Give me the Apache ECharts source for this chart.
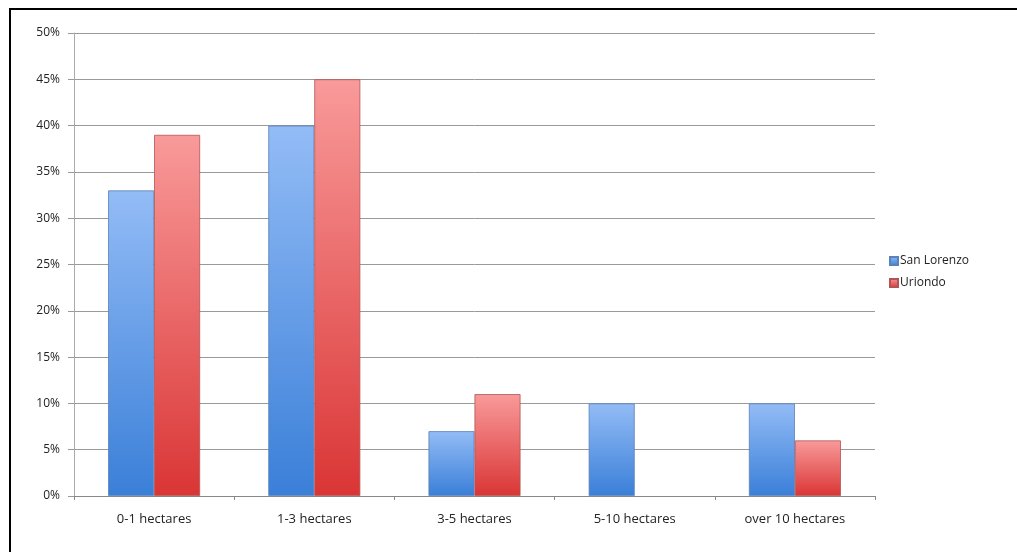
<!DOCTYPE html>
<html>
<head>
<meta charset="utf-8">
<script src="https://cdn.jsdelivr.net/npm/echarts@6/dist/echarts.min.js"></script>
<style>
  html, body { margin: 0; padding: 0; background: #fff; }
  #frame { position: absolute; left: 9px; top: 8px; width: 1008px; height: 544px;
           border-top: 2px solid #000; border-left: 2px solid #000; box-sizing: border-box; }
  #chart { position: absolute; left: 0; top: 0; width: 1017px; height: 552px; }
</style>
</head>
<body>
<div id="frame"></div>
<div id="chart"></div>
<script>
const categories = ['0-1 hectares', '1-3 hectares', '3-5 hectares', '5-10 hectares', 'over 10 hectares'];
const sanLorenzo = [33, 40, 7, 10, 10];
const uriondo = [39, 45, 11, 0, 6];
const seriesNames = ['San Lorenzo', 'Uriondo'];

const chart = echarts.init(document.getElementById('chart'), null, { renderer: 'canvas' });

function grad(top, bottom) {
  return new echarts.graphic.LinearGradient(0, 0, 0, 1, [
    { offset: 0, color: top },
    { offset: 1, color: bottom }
  ]);
}

// zero-height bars get no outline so nothing is drawn for them
function barData(values) {
  return values.map(v => v === 0 ? { value: v, itemStyle: { borderWidth: 0, opacity: 0 } } : v);
}

const font = '"Open Sans", "DejaVu Sans", sans-serif';

chart.setOption({
  backgroundColor: 'transparent',
  animation: false,
  grid: { left: 74, right: 142, top: 33, bottom: 56 },
  legend: {
    orient: 'vertical',
    left: 884,
    top: 250,
    itemWidth: 8,
    itemHeight: 8,
    itemGap: 10,
    icon: 'rect',
    textStyle: { fontFamily: font, fontSize: 12, color: '#222', padding: [0, 0, 0, -3] },
    data: seriesNames
  },
  xAxis: {
    type: 'category',
    data: categories,
    axisLine: { lineStyle: { color: '#888', width: 1 } },
    axisTick: { show: true, length: 4, alignWithLabel: false, lineStyle: { color: '#888' } },
    axisLabel: { fontFamily: font, fontSize: 13, color: '#222', margin: 17 }
  },
  yAxis: {
    type: 'value',
    min: 0,
    max: 50,
    interval: 5,
    axisLine: { show: true, lineStyle: { color: '#aaa', width: 1 } },
    axisTick: { show: true, length: 6, lineStyle: { color: '#999' } },
    splitLine: { lineStyle: { color: '#999', width: 1 } },
    axisLabel: { fontFamily: font, fontSize: 12, color: '#222', margin: 14, formatter: '{value}%' }
  },
  series: [
    {
      name: seriesNames[0],
      type: 'bar',
      data: barData(sanLorenzo),
      barWidth: 46,
      barGap: '0%',
      itemStyle: {
        color: grad('#93bcf6', '#3a7fd8'),
        borderColor: '#5a82b8',
        borderWidth: 0.8
      }
    },
    {
      name: seriesNames[1],
      type: 'bar',
      data: barData(uriondo),
      barWidth: 46,
      barGap: '0%',
      itemStyle: {
        color: grad('#f99a9a', '#da3535'),
        borderColor: '#b05454',
        borderWidth: 0.8
      }
    }
  ]
});
</script>
</body>
</html>
